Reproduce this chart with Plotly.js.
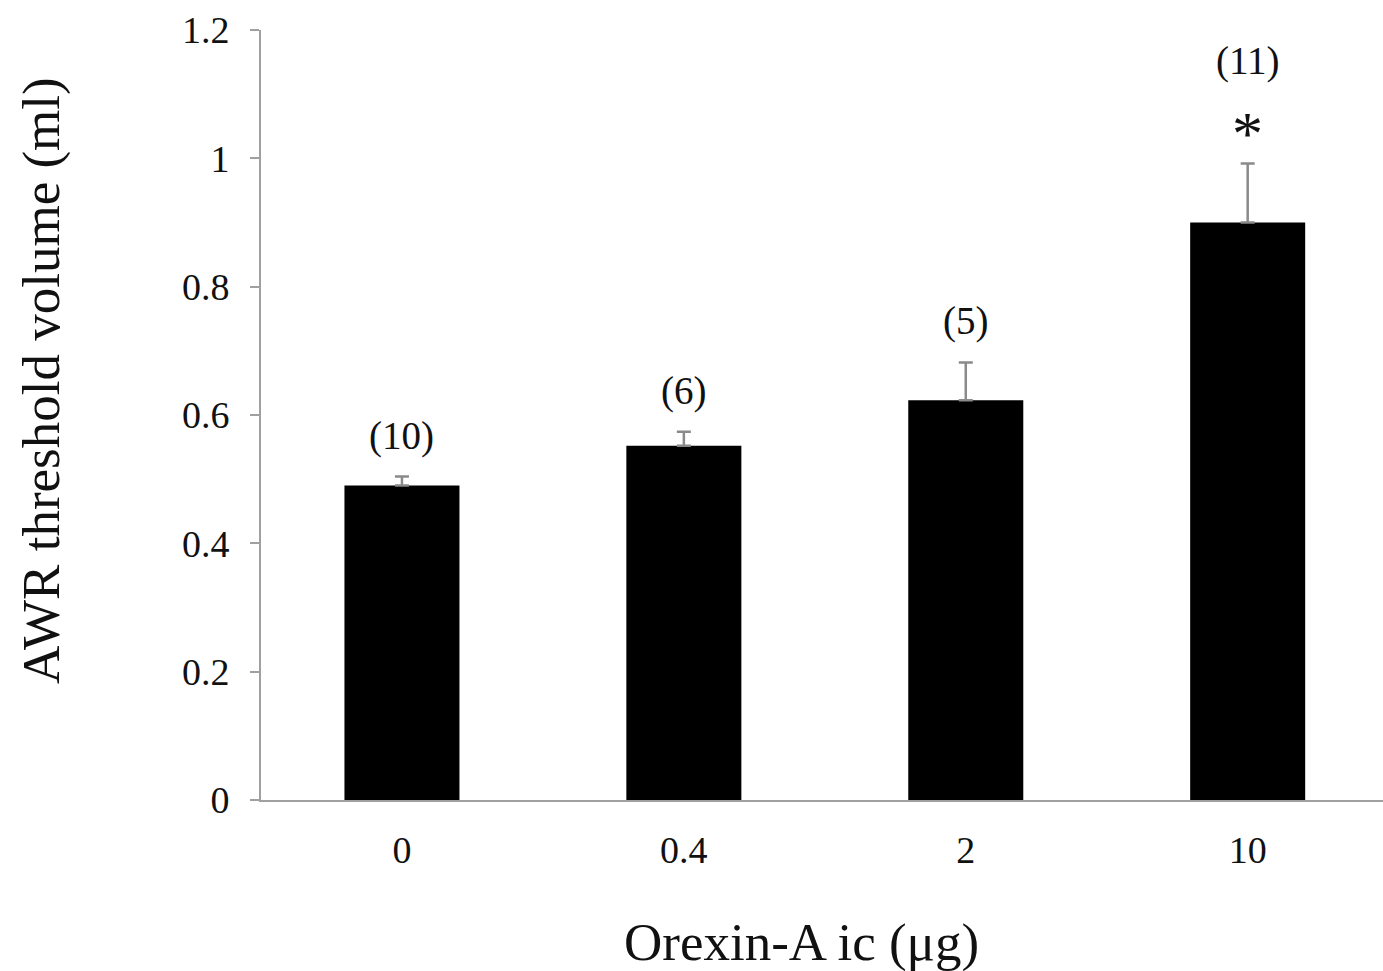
<!DOCTYPE html>
<html>
<head>
<meta charset="utf-8">
<script src="https://cdn.plot.ly/plotly-3.0.1.min.js"></script>
<style>html,body{margin:0;padding:0;background:#fff;}#chart{width:1383px;height:971px;}</style>
</head>
<body>
<div id="chart"></div>
<script>
const doses = ['0', '0.4', '2', '10'];
const means = [0.490, 0.552, 0.623, 0.900];
const sem = [0.014, 0.022, 0.059, 0.092];
const nLabels = ['(10)', '(6)', '(5)', '(11)'];
const sigMarks = ['', '', '', '*'];
const yTicks = [0, 0.2, 0.4, 0.6, 0.8, 1, 1.2];
const yTickText = ['0', '0.2', '0.4', '0.6', '0.8', '1', '1.2'];
const xTitle = 'Orexin-A ic (μg)';
const yTitle = 'AWR threshold volume (ml)';

const FONT = 'Liberation Serif, Times New Roman, serif';

const trace = {
  type: 'bar',
  x: doses.map((d, i) => i),
  y: means,
  width: 0.408,
  marker: {color: '#000000', line: {width: 0}},
  error_y: {
    type: 'data',
    symmetric: false,
    array: sem,
    arrayminus: sem.map(() => 0),
    color: '#8a8a8a',
    thickness: 2.5,
    width: 7
  },
  hoverinfo: 'skip'
};

const annotations = [];
doses.forEach((d, i) => {
  const top = means[i] + sem[i];
  if (sigMarks[i]) {
    annotations.push({x: i, y: top, xref: 'x', yref: 'y', text: sigMarks[i], showarrow: false,
      yanchor: 'middle', yshift: 30, font: {family: FONT, size: 62, color: '#111'}});
    annotations.push({x: i, y: top, xref: 'x', yref: 'y', text: nLabels[i], showarrow: false,
      yanchor: 'middle', yshift: 102, font: {family: FONT, size: 39, color: '#111'}});
  } else {
    annotations.push({x: i, y: top, xref: 'x', yref: 'y', text: nLabels[i], showarrow: false,
      yanchor: 'middle', yshift: 41, font: {family: FONT, size: 39, color: '#111'}});
  }
});
// axis titles
annotations.push({xref: 'paper', yref: 'paper', x: 0.4813, y: -0.1845, xanchor: 'center', yanchor: 'middle',
  text: xTitle, showarrow: false, font: {family: FONT, size: 53, color: '#111'}});
annotations.push({xref: 'paper', yref: 'paper', x: -0.1952, y: 0.5455, xanchor: 'center', yanchor: 'middle',
  textangle: -90, text: yTitle, showarrow: false, font: {family: FONT, size: 53, color: '#111'}});

const layout = {
  width: 1383,
  height: 971,
  margin: {l: 261, r: 0, t: 30, b: 171, pad: 0},
  paper_bgcolor: '#ffffff',
  plot_bgcolor: '#ffffff',
  showlegend: false,
  font: {family: FONT, color: '#111'},
  xaxis: {
    type: 'linear',
    range: [-0.5, 3.48],
    tickvals: doses.map((d, i) => i),
    ticktext: doses,
    showline: true,
    linecolor: '#a0a0a0',
    linewidth: 2,
    ticks: '',
    showgrid: false,
    zeroline: false,
    tickfont: {family: FONT, size: 38, color: '#111'},
    ticklabelstandoff: 15
  },
  yaxis: {
    range: [0, 1.2],
    tickvals: yTicks,
    ticktext: yTickText,
    showline: true,
    linecolor: '#a0a0a0',
    linewidth: 2,
    ticks: 'outside',
    ticklen: 9,
    tickwidth: 2,
    tickcolor: '#a0a0a0',
    showgrid: false,
    zeroline: false,
    tickfont: {family: FONT, size: 38, color: '#111'},
    ticklabelstandoff: 13
  },
  annotations: annotations
};

Plotly.newPlot('chart', [trace], layout, {displayModeBar: false, staticPlot: true});
</script>
</body>
</html>
